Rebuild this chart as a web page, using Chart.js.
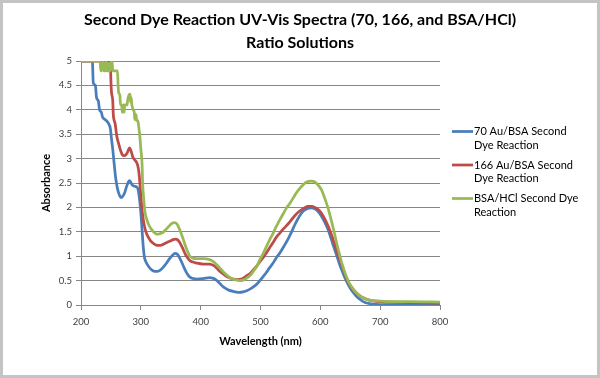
<!DOCTYPE html>
<html>
<head>
<meta charset="utf-8">
<script src="https://cdn.jsdelivr.net/npm/chart.js@4/dist/chart.umd.min.js"></script>
<style>
  html, body { margin: 0; padding: 0; background: #ffffff; }
  #wrap { width: 600px; height: 378px; position: relative; }
</style>
</head>
<body>
<div id="wrap"><canvas id="c" width="600" height="378"></canvas></div>
<script>
// ---- Data ----
const chartTitle = ['Second Dye Reaction UV-Vis Spectra (70, 166, and BSA/HCl)', 'Ratio Solutions'];
const xAxisTitle = 'Wavelength (nm)';
const yAxisTitle = 'Absorbance';
const xTickValues = [200, 300, 400, 500, 600, 700, 800];
const yTickValues = [0, 0.5, 1, 1.5, 2, 2.5, 3, 3.5, 4, 4.5, 5];

const seriesNames = ['70 Au/BSA Second Dye Reaction', '166 Au/BSA Second Dye Reaction', 'BSA/HCl Second Dye Reaction'];
const legendLines = [['70 Au/BSA Second', 'Dye Reaction'], ['166 Au/BSA Second', 'Dye Reaction'], ['BSA/HCl Second Dye', 'Reaction']];

// Series 1: 70 Au/BSA
const blueNm  = [200,219,220.5,224,226,229,231,234,236,240,243,246,249,251,253,255,258,261,264,267,270,273,276,279,281,283,285,288,291,294,296,298,300,302,304,306,309,313,318,323,328,333,338,343,348,353,357,361,365,370,374,378,382,388,393,404,415,420,424,428,432,437,443,448,454,460,465,471,477,483,488,494,499,505,510,515,521,526,532,539,546,552,558,565,572,579,585,591,596,602,608,613,618,623,627,632,637,641,647,654,661,668,675,682,692,710,750,800];
const blueAbs = [5,5,4.55,4.5,4.25,4.18,4.0,3.95,3.85,3.8,3.77,3.72,3.62,3.4,3.2,2.95,2.6,2.38,2.26,2.2,2.23,2.3,2.42,2.52,2.55,2.52,2.47,2.44,2.43,2.41,2.33,2.15,1.9,1.55,1.2,0.98,0.87,0.79,0.72,0.69,0.69,0.72,0.78,0.86,0.95,1.02,1.06,1.04,0.96,0.83,0.72,0.63,0.57,0.54,0.53,0.54,0.56,0.55,0.53,0.49,0.44,0.38,0.33,0.3,0.28,0.265,0.26,0.27,0.29,0.33,0.37,0.43,0.5,0.59,0.67,0.76,0.86,0.96,1.06,1.2,1.35,1.5,1.66,1.82,1.93,1.98,1.99,1.97,1.92,1.82,1.68,1.54,1.36,1.17,1.03,0.84,0.68,0.56,0.41,0.27,0.17,0.1,0.05,0.03,0.015,0.01,0.01,0.01];

// Series 2: 166 Au/BSA
const redNm  = [200,249,250,251,253,254,257,260,263,266,269,272,275,278,281,283,285,287,290,293,295,297,299,301,303,305,308,312,316,320,325,330,335,340,345,349,354,358,362,365,370,374,378,382,387,393,404,415,420,424,428,432,437,443,448,454,460,465,471,477,483,488,494,499,505,510,515,521,526,532,539,546,552,558,565,572,579,585,591,596,602,607,613,618,623,627,632,637,641,647,654,661,668,675,682,690,700,720,750,800];
const redAbs = [5,5,4.6,4.35,4.2,3.9,3.72,3.45,3.3,3.17,3.08,3.06,3.08,3.14,3.22,3.18,3.1,3.02,2.97,2.92,2.85,2.7,2.4,2.1,1.85,1.68,1.52,1.4,1.32,1.27,1.23,1.22,1.23,1.26,1.29,1.31,1.34,1.35,1.33,1.28,1.16,1.05,0.97,0.91,0.88,0.86,0.84,0.84,0.82,0.79,0.74,0.69,0.64,0.59,0.56,0.53,0.52,0.525,0.55,0.6,0.65,0.72,0.8,0.89,0.98,1.07,1.17,1.28,1.38,1.47,1.57,1.66,1.75,1.84,1.92,1.98,2.02,2.02,2.0,1.96,1.88,1.77,1.62,1.46,1.28,1.13,0.95,0.78,0.64,0.46,0.33,0.24,0.17,0.13,0.1,0.08,0.07,0.06,0.05,0.04];

// Series 3: BSA/HCl
const greenNm  = [200,232,233,236,237,238,241,242,243,245,246,247,249,250,252,253,261,262,263,265,266,268,269,271,272,273,277,278,280,282,283,284,285,286,287,289,290,292,293,295,296,298,300,302,303,305,307,310,313,317,321,325,329,334,338,343,349,353,357,361,365,370,374,378,382,387,393,404,415,420,424,428,432,437,443,448,454,460,465,471,477,483,488,494,499,505,510,515,521,526,532,538,543,549,555,560,565,571,577,585,591,596,602,607,613,618,623,629,635,640,647,654,661,668,675,682,690,700,720,750,800];
const greenAbs = [5,5,4.8,4.85,5,4.8,4.8,5,4.8,4.8,4.95,4.8,4.8,5,5,4.8,4.8,4.5,4.35,4.3,4.1,4.1,3.95,4.1,3.95,4.1,4.1,4.2,4.3,4.32,4.15,4.25,4.1,4.05,4.0,3.95,3.8,3.9,3.78,3.78,3.7,3.5,3.2,2.9,2.5,2.15,1.9,1.75,1.65,1.56,1.5,1.46,1.45,1.47,1.5,1.56,1.64,1.68,1.69,1.65,1.54,1.38,1.23,1.1,1.0,0.96,0.95,0.95,0.93,0.9,0.86,0.81,0.76,0.69,0.62,0.57,0.53,0.51,0.5,0.51,0.55,0.61,0.69,0.8,0.93,1.07,1.2,1.33,1.47,1.6,1.74,1.87,1.98,2.08,2.2,2.3,2.38,2.46,2.52,2.54,2.52,2.46,2.36,2.2,1.98,1.75,1.5,1.18,0.9,0.7,0.48,0.34,0.24,0.17,0.13,0.1,0.09,0.08,0.07,0.07,0.06];

const seriesColors = ['#4a7ebb', '#be4b48', '#98b954'];

// ---- Build chart ----
function toPoints(xs, ys) { return xs.map((x, i) => ({ x: x, y: ys[i] })); }
const seriesData = [toPoints(blueNm, blueAbs), toPoints(redNm, redAbs), toPoints(greenNm, greenAbs)];

const FONT = 'Lato, "Open Sans", "DejaVu Sans", sans-serif';
const LINE_W = 2.75;
const GRID = '#878787';

const framePlugin = {
  id: 'frame',
  beforeDraw(chart) {
    const ctx = chart.ctx;
    ctx.save();
    ctx.fillStyle = '#ffffff';
    ctx.fillRect(0, 0, chart.width, chart.height);
    ctx.restore();
  },
  afterDraw(chart) {
    const ctx = chart.ctx;
    ctx.save();
    ctx.strokeStyle = '#c4c4c4';
    ctx.lineWidth = 3;
    ctx.strokeRect(1.5, 1.5, chart.width - 3, chart.height - 3);
    ctx.restore();
  }
};

const sideLegend = {
  id: 'sideLegend',
  afterDraw(chart) {
    const ctx = chart.ctx;
    ctx.save();
    ctx.font = '11px ' + FONT;
    ctx.textBaseline = 'middle';
    ctx.textAlign = 'left';
    legendLines.forEach((lines, i) => {
      const y = 131.5 + i * 33.5;
      ctx.strokeStyle = seriesColors[i];
      ctx.lineWidth = LINE_W;
      ctx.beginPath();
      ctx.moveTo(452, y);
      ctx.lineTo(473, y);
      ctx.stroke();
      ctx.fillStyle = '#000000';
      lines.forEach((t, j) => ctx.fillText(t, 474, y + j * 13.5));
    });
    ctx.restore();
  }
};

new Chart(document.getElementById('c'), {
  type: 'line',
  data: {
    datasets: seriesNames.map((name, i) => ({
      label: name,
      data: seriesData[i],
      borderColor: seriesColors[i],
      backgroundColor: seriesColors[i],
      borderWidth: LINE_W,
      pointRadius: 0,
      pointHoverRadius: 0,
      fill: false,
      cubicInterpolationMode: 'monotone',
      order: 3 - i
    }))
  },
  options: {
    responsive: false,
    animation: false,
    events: [],
    layout: { padding: { left: 0, right: 0, top: 0, bottom: 0 } },
    plugins: {
      legend: { display: false },
      tooltip: { enabled: false },
      title: {
        display: true,
        text: chartTitle,
        color: '#000000',
        font: { family: FONT, size: 16, weight: 'bold', lineHeight: 1.45 },
        padding: { top: 8, bottom: 6.6 }
      }
    },
    scales: {
      x: {
        type: 'linear',
        min: 200, max: 800,
        afterBuildTicks: (s) => { s.ticks = xTickValues.map(v => ({ value: v })); },
        afterFit: (s) => { s.height = 73; },
        ticks: {
          color: '#404040',
          font: { family: FONT, size: 9.5 },
          padding: 6,
          maxRotation: 0,
          callback: (v) => String(v)
        },
        grid: { drawOnChartArea: false, drawTicks: true, tickLength: 5, color: GRID, lineWidth: 1 },
        border: { display: true, color: GRID, width: 1 },
        title: {
          display: true,
          text: xAxisTitle,
          color: '#000000',
          font: { family: FONT, size: 11, weight: 'bold', lineHeight: 1.2 },
          padding: { top: 0, bottom: 29.5 }
        }
      },
      y: {
        type: 'linear',
        position: 'left',
        min: 0, max: 5,
        afterBuildTicks: (s) => { s.ticks = yTickValues.map(v => ({ value: v })); },
        afterFit: (s) => { s.width = 81; },
        ticks: {
          color: '#404040',
          font: { family: FONT, size: 9.5 },
          padding: 4,
          callback: (v) => String(v)
        },
        grid: { drawOnChartArea: true, drawTicks: true, tickLength: 5, color: GRID, lineWidth: 1 },
        border: { display: true, color: GRID, width: 1 },
        title: {
          display: true,
          text: yAxisTitle,
          color: '#000000',
          font: { family: FONT, size: 11, weight: 'bold', lineHeight: 1.2 },
          padding: { top: 39.5, bottom: 0 }
        }
      },
      // empty right-hand box that reserves the space where the legend sits
      legendSpace: {
        type: 'linear',
        position: 'right',
        min: 0, max: 5,
        afterFit: (s) => { s.width = 160; },
        ticks: { display: false },
        grid: { display: false, drawTicks: false },
        border: { display: false },
        title: { display: false }
      }
    }
  },
  plugins: [framePlugin, sideLegend]
});
</script>
</body>
</html>
